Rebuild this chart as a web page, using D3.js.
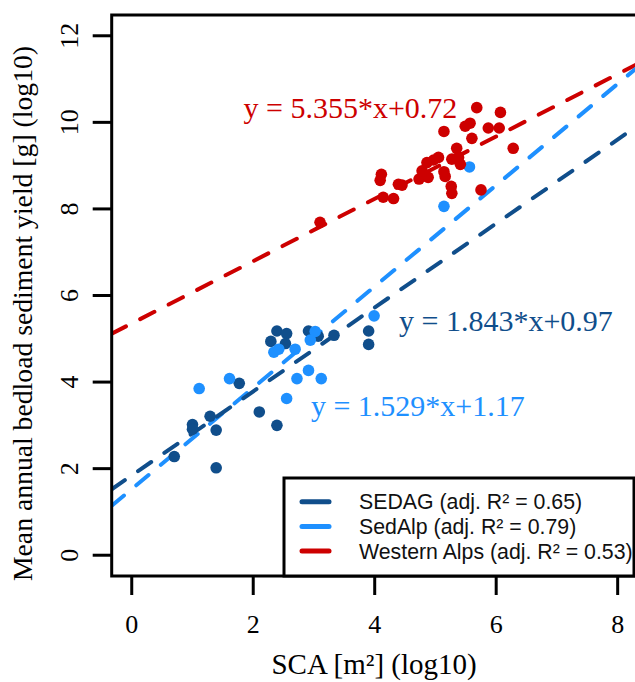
<!DOCTYPE html>
<html><head><meta charset="utf-8">
<script src="https://cdn.jsdelivr.net/npm/d3@7"></script>
<style>body{margin:0;background:#fff}svg{display:block}</style>
</head><body>
<svg id="c" width="635" height="682"></svg>
<script>
// ---- data ----
const sedagX = [0.70,1.00,1.00,1.29,1.39,1.39,1.77,2.10,2.39,2.39,2.55,2.29,2.53,2.91,3.07,3.33,3.90,3.90];
const sedagY = [2.28,3.02,2.91,3.21,2.89,2.02,3.97,3.31,3.00,5.18,5.12,4.94,4.89,5.18,5.06,5.08,5.18,4.87];
const sedalpX = [1.11,1.61,2.55,2.34,2.42,2.69,3.02,2.94,2.72,2.91,3.12,3.99,5.14,5.56];
const sedalpY = [3.85,4.08,3.62,4.69,4.76,4.76,5.17,4.97,4.08,4.27,4.08,5.53,8.06,8.97];
const westX = [3.10,4.11,4.09,4.14,4.31,4.39,4.45,4.73,4.78,4.88,4.86,4.97,5.05,5.14,5.16,5.27,5.38,5.41,5.26,5.27,5.14,5.35,5.49,5.57,5.60,5.68,5.87,6.05,6.07,6.28,5.75];
const westY = [7.69,8.80,8.66,8.27,8.24,8.57,8.55,8.69,8.88,8.73,9.07,9.13,9.19,8.86,8.75,9.15,9.19,9.03,8.52,8.36,9.79,9.40,9.91,9.98,9.63,10.34,9.87,9.87,10.23,9.40,8.44];
const seriesNames = ["SEDAG (adj. R\u00b2 = 0.65)","SedAlp (adj. R\u00b2 = 0.79)","Western Alps (adj. R\u00b2 = 0.53)"];
const intercepts = [1.843, 1.529, 5.355];
const slopes = [0.97, 1.17, 0.72];
const eqLabels = ["y = 1.843*x+0.97","y = 1.529*x+1.17","y = 5.355*x+0.72"];
const eqPos = [[6.16,5.43],[4.71,3.45],[3.6,10.35]];
const xTicks = [0,2,4,6,8];
const yTicks = [0,2,4,6,8,10,12];
const colors = ["#104E8B","#1E90FF","#CD0000"];

// ---- layout ----
const L = 111.7, R = 636.5, T = 15, B = 576;
const x = d3.scaleLinear().domain([-0.33, 8.31]).range([L, R]);
const y = d3.scaleLinear().domain([-0.48, 12.48]).range([B, T]);
const svg = d3.select("#c");
const serif = "'Liberation Serif','Times New Roman',serif";
const sans = "'Liberation Sans',Arial,sans-serif";

svg.append("defs").append("clipPath").attr("id","clip")
  .append("rect").attr("x",L).attr("y",T).attr("width",R-L).attr("height",B-T);

// regression lines
const lines = svg.append("g").attr("clip-path","url(#clip)");
[2,1,0].forEach(i=>{
  const x0 = -0.33, x1 = 8.31;
  lines.append("line")
    .attr("x1",x(x0)).attr("y1",y(intercepts[i]+slopes[i]*x0))
    .attr("x2",x(x1)).attr("y2",y(intercepts[i]+slopes[i]*x1))
    .attr("stroke",colors[i]).attr("stroke-width",4)
    .attr("stroke-dasharray","16,16").attr("stroke-linecap","round");
});

// points
const pts = svg.append("g").attr("clip-path","url(#clip)");
const sets = [[sedagX,sedagY],[sedalpX,sedalpY],[westX,westY]];
sets.forEach((s,i)=>{
  pts.selectAll(null).data(d3.range(s[0].length)).enter().append("circle")
    .attr("cx",k=>x(s[0][k])).attr("cy",k=>y(s[1][k])).attr("r",5.8)
    .attr("fill",colors[i]);
});

// equations
eqLabels.forEach((t,i)=>{
  svg.append("text").attr("x",x(eqPos[i][0])).attr("y",y(eqPos[i][1])).attr("dy","0.35em")
    .attr("text-anchor","middle").attr("font-family",serif).attr("font-size",30)
    .attr("fill",colors[i]).text(t);
});

// box
svg.append("rect").attr("x",L).attr("y",T).attr("width",R-L).attr("height",B-T)
  .attr("fill","none").attr("stroke","#000").attr("stroke-width",3);

// x axis
const gx = svg.append("g");
xTicks.forEach(v=>{
  gx.append("line").attr("x1",x(v)).attr("x2",x(v)).attr("y1",B).attr("y2",B+19)
    .attr("stroke","#000").attr("stroke-width",3);
  gx.append("text").attr("x",x(v)).attr("y",633).attr("text-anchor","middle")
    .attr("font-family",serif).attr("font-size",26).text(v);
});
// y axis
const gy = svg.append("g");
yTicks.forEach(v=>{
  gy.append("line").attr("x1",L).attr("x2",L-19).attr("y1",y(v)).attr("y2",y(v))
    .attr("stroke","#000").attr("stroke-width",3);
  gy.append("text").attr("transform",`translate(78,${y(v)}) rotate(-90)`)
    .attr("text-anchor","middle").attr("font-family",serif).attr("font-size",26).text(v);
});
svg.append("text").attr("x",(L+R)/2).attr("y",674).attr("text-anchor","middle")
  .attr("font-family",serif).attr("font-size",29).text("SCA [m\u00b2] (log10)");
svg.append("text").attr("transform",`translate(32,${(T+B)/2+18}) rotate(-90)`)
  .attr("text-anchor","middle").attr("font-family",serif).attr("font-size",27.7)
  .text("Mean annual bedload sediment yield [g] (log10)");

// legend
const lg = svg.append("g");
lg.append("rect").attr("x",284).attr("y",478).attr("width",350).attr("height",B-478)
  .attr("fill","#fff").attr("stroke","#000").attr("stroke-width",3);
seriesNames.forEach((n,i)=>{
  const yy = 501.7 + i*24.7;
  lg.append("line").attr("x1",302).attr("x2",329).attr("y1",yy).attr("y2",yy)
    .attr("stroke",colors[i]).attr("stroke-width",5).attr("stroke-linecap","round");
  lg.append("text").attr("x",359).attr("y",yy).attr("dy","0.35em")
    .attr("font-family",sans).attr("font-size",21.3).attr("fill","#111").text(n);
});
</script>
</body></html>
